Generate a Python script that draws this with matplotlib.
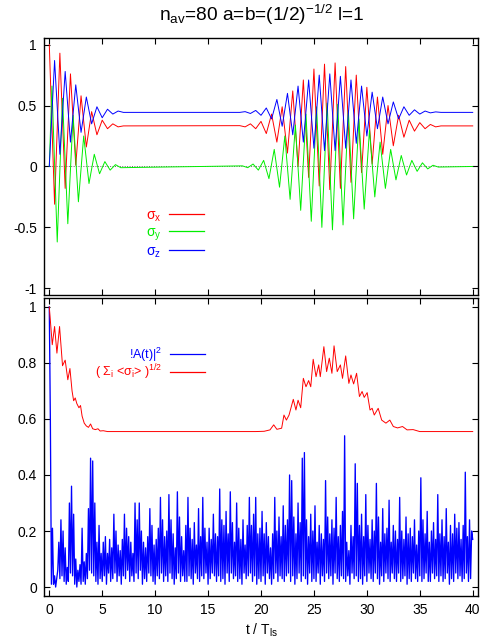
import numpy as np
import matplotlib
matplotlib.use('Agg')
import matplotlib.pyplot as plt

plt.rcParams['font.family'] = ['Liberation Sans', 'DejaVu Sans']
plt.rcParams['mathtext.fontset'] = 'custom'
plt.rcParams['mathtext.rm'] = 'Liberation Sans'
plt.rcParams['mathtext.it'] = 'Liberation Sans'
plt.rcParams['mathtext.bf'] = 'Liberation Sans:bold'

T_END = 40.0

# --- painel de cima: extremos (colapso e renascimento) ---
t_sx_col = np.arange(0, 7.01, 0.5)
sx_col = [1.00, -0.31, 0.93, -0.18, 0.76, 0.01, 0.58, 0.16, 0.45, 0.26,
          0.38, 0.31, 0.35, 0.325, 0.333]
t_sx_rev = np.arange(18, 37.01, 0.5)
sx_rev = [0.335, 0.325, 0.35, 0.31, 0.37, 0.27, 0.43, 0.20, 0.49, 0.11,
          0.62, 0.00, 0.71, -0.09, 0.80, -0.16, 0.84, -0.19, 0.85, -0.18,
          0.82, -0.13, 0.75, -0.05, 0.65, 0.02, 0.57, 0.10, 0.50, 0.17,
          0.42, 0.24, 0.38, 0.29, 0.36, 0.31, 0.345, 0.325, 0.333]
sx_flat = 0.333

t_sy_col = np.concatenate([[0.0], np.arange(0.25, 7.0, 0.5)])
sy_col = [0.0, 0.66, -0.62, 0.56, -0.47, 0.42, -0.29, 0.25, -0.14, 0.10,
          -0.06, 0.04, -0.03, 0.015, -0.01]
t_sy_rev = np.arange(18.25, 37.0, 0.5)
sy_rev = [0.005, -0.01, 0.02, -0.03, 0.05, -0.10, 0.14, -0.17, 0.25, -0.27,
          0.34, -0.36, 0.43, -0.45, 0.49, -0.50, 0.52, -0.52, 0.51, -0.48,
          0.46, -0.43, 0.39, -0.35, 0.30, -0.25, 0.20, -0.18, 0.14, -0.11,
          0.09, -0.07, 0.05, -0.04, 0.03, -0.02, 0.01, -0.005]
sy_flat = 0.0

t_sz_col = np.arange(0, 7.01, 0.5)
sz_col = [0.0, 0.87, 0.10, 0.78, 0.20, 0.67, 0.28, 0.57, 0.35, 0.49,
          0.40, 0.47, 0.43, 0.455, 0.444]
t_sz_rev = np.arange(18, 37.01, 0.5)
sz_rev = [0.444, 0.45, 0.435, 0.46, 0.42, 0.48, 0.39, 0.55, 0.33, 0.60,
          0.26, 0.66, 0.20, 0.71, 0.15, 0.75, 0.13, 0.76, 0.13, 0.74,
          0.15, 0.71, 0.19, 0.66, 0.25, 0.61, 0.31, 0.57, 0.35, 0.53,
          0.39, 0.49, 0.42, 0.465, 0.43, 0.455, 0.44, 0.448, 0.444]
sz_flat = 0.444

# --- painel de baixo: norma do vetor de Bloch ---
t_norm_col = [0.0, 0.28, 0.5, 0.72, 0.97, 1.25, 1.5, 1.75, 1.95, 2.15,
              2.3, 2.45, 2.6, 2.8, 2.95, 3.1, 3.3, 3.5, 3.7, 3.9,
              4.1, 4.35, 4.6, 4.8, 5.1, 5.5]
norm_col = [1.00, 0.865, 0.93, 0.835, 0.93, 0.79, 0.81, 0.74, 0.78, 0.70,
            0.665, 0.675, 0.655, 0.64, 0.648, 0.61, 0.585, 0.575, 0.57, 0.582,
            0.565, 0.562, 0.565, 0.557, 0.558, 0.555]
t_norm_rev = [19.5, 20.3, 20.85, 21.2, 21.5, 21.95, 22.17, 22.4, 22.65, 23.05,
              23.3, 23.5, 23.75, 24.0, 24.25, 24.5, 24.7, 24.93, 25.2, 25.45,
              25.6, 25.94, 26.2, 26.45, 26.7, 26.9, 27.2, 27.5, 27.7, 28.0,
              28.3, 28.5, 28.75, 29.03, 29.3, 29.55, 29.75, 30.03, 30.3, 30.5,
              30.7, 31.07, 31.4, 31.8, 32.17, 32.5, 32.9, 33.37, 33.8, 34.37,
              35.0, 36.0]
norm_rev = [0.555, 0.556, 0.561, 0.579, 0.563, 0.567, 0.614, 0.596, 0.614, 0.67,
            0.632, 0.667, 0.64, 0.745, 0.715, 0.737, 0.715, 0.813, 0.751, 0.793,
            0.751, 0.858, 0.769, 0.817, 0.763, 0.861, 0.769, 0.793, 0.745, 0.825,
            0.727, 0.757, 0.725, 0.763, 0.68, 0.698, 0.677, 0.694, 0.632, 0.638,
            0.614, 0.638, 0.596, 0.585, 0.596, 0.573, 0.568, 0.573, 0.561, 0.562,
            0.555, 0.555]
norm_flat = 0.555

# |A(t)|^2 em centesimos, passo 0.1 (uma linha = 1 unidade de t)
A2_STEP = 0.1
a2_pct = [
    100, 60, 1, 21, 1, 4, 0, 3, 6, 16,
    3, 24, 4, 20, 2, 14, 1, 7, 2, 30,
    5, 36, 4, 26, 1, 10, 0, 6, 2, 8,
    1, 21, 2, 9, 1, 12, 3, 28, 6, 46,
    5, 45, 4, 30, 2, 16, 1, 22, 3, 12,
    2, 16, 4, 18, 1, 12, 5, 17, 2, 14,
    3, 26, 5, 20, 2, 15, 4, 13, 1, 17,
    4, 26, 3, 21, 6, 18, 2, 16, 4, 12,
    2, 30, 5, 24, 3, 30, 6, 20, 1, 16,
    3, 14, 2, 18, 5, 28, 4, 22, 2, 15,
    1, 17, 4, 21, 3, 32, 5, 24, 2, 18,
    4, 20, 2, 33, 5, 24, 3, 19, 1, 14,
    3, 34, 5, 25, 2, 18, 4, 13, 2, 22,
    2, 32, 4, 21, 3, 17, 1, 23, 5, 15,
    3, 28, 2, 18, 4, 32, 3, 21, 5, 16,
    1, 21, 3, 17, 5, 26, 4, 19, 2, 18,
    4, 35, 2, 24, 3, 22, 1, 27, 5, 19,
    2, 34, 5, 23, 3, 16, 4, 30, 2, 21,
    3, 17, 1, 24, 5, 15, 3, 22, 4, 32,
    5, 22, 2, 26, 4, 32, 1, 19, 3, 21,
    2, 27, 4, 19, 1, 23, 5, 18, 3, 14,
    1, 19, 3, 32, 5, 20, 2, 25, 4, 18,
    3, 29, 2, 22, 4, 24, 5, 40, 2, 38,
    4, 25, 1, 19, 3, 30, 5, 23, 2, 46,
    4, 48, 3, 24, 1, 18, 5, 26, 2, 20,
    3, 29, 2, 16, 5, 22, 1, 19, 4, 17,
    2, 38, 5, 25, 3, 19, 4, 24, 1, 21,
    5, 32, 3, 18, 2, 22, 4, 27, 3, 54,
    2, 16, 4, 13, 1, 22, 5, 18, 3, 44,
    4, 37, 2, 22, 3, 26, 1, 18, 4, 33,
    2, 22, 5, 17, 3, 24, 2, 20, 5, 37,
    3, 25, 1, 16, 4, 28, 2, 19, 5, 21,
    3, 31, 2, 16, 5, 22, 3, 20, 2, 17,
    5, 32, 2, 20, 3, 17, 4, 25, 1, 19,
    3, 21, 2, 18, 5, 24, 3, 15, 2, 20,
    4, 39, 2, 24, 3, 19, 5, 27, 2, 16,
    2, 20, 5, 23, 3, 17, 4, 33, 2, 19,
    4, 24, 2, 18, 3, 28, 5, 16, 1, 22,
    3, 19, 2, 26, 5, 21, 3, 23, 4, 17,
    2, 22, 3, 41, 5, 18, 2, 24, 3, 20,
    17,
]

title = r'n$_{\rm av}$=80 a=b=(1/2)$^{-1/2}$ l=1'
lbl_sigma = [r'$\sigma_{\rm x}$', r'$\sigma_{\rm y}$', r'$\sigma_{\rm z}$']
lbl_amp = r'!A(t)|$^2$'
lbl_norm = r'( $\Sigma_{\rm i}$ <$\sigma_{\rm i}$> )$^{1/2}$'
xticks = np.arange(0, 41, 5)
yticks_top = [-1, -0.5, 0, 0.5, 1]
yticks_bot = [0, 0.2, 0.4, 0.6, 0.8, 1]


def join(t_col, v_col, t_rev, v_rev, flat):
    t = np.concatenate([t_col, t_rev, [T_END]])
    v = np.concatenate([v_col, v_rev, [flat]])
    return t, v


def style_axes(ax):
    ax.set_xlim(-0.5, 40.5)
    ax.set_xticks(xticks)
    ax.tick_params(direction='in', top=True, right=True, length=4,
                   width=0.8, labelsize=10, pad=5)
    for s in ax.spines.values():
        s.set_linewidth(1.0)


fig = plt.figure(figsize=(5.0, 6.41), dpi=100)
ax1 = fig.add_axes([0.088, 0.5398, 0.868, 0.401])
ax2 = fig.add_axes([0.088, 0.0702, 0.868, 0.465])

# painel de cima
ax1.axhline(0, color='0.4', lw=0.7, ls=(0, (1, 1.5)), zorder=1)
cores = ['#ff0000', '#00ee00', '#0000ff']
series = [join(t_sx_col, sx_col, t_sx_rev, sx_rev, sx_flat),
          join(t_sy_col, sy_col, t_sy_rev, sy_rev, sy_flat),
          join(t_sz_col, sz_col, t_sz_rev, sz_rev, sz_flat)]
for (t, v), c, lb in zip(series, cores, lbl_sigma):
    ax1.plot(t, v, color=c, lw=0.7, label=lb, zorder=2,
             solid_joinstyle='round')
style_axes(ax1)
ax1.set_ylim(-1.055, 1.055)
ax1.set_yticks(yticks_top)
ax1.set_yticklabels(['-1', '-0.5', '0', '0.5', '1'])
ax1.tick_params(labelbottom=False)
leg1 = ax1.legend(loc='upper right', bbox_to_anchor=(0.385, 0.365),
                  frameon=False, markerfirst=False, fontsize=10,
                  handlelength=2.5, handletextpad=0.6, labelspacing=0.12,
                  borderpad=0, labelcolor='linecolor')
for h in leg1.get_lines():
    h.set_linewidth(0.9)

# painel de baixo
a2 = np.array(a2_pct) / 100.0
t_a2 = np.arange(len(a2)) * A2_STEP
t_n, v_n = join(t_norm_col, norm_col, t_norm_rev, norm_rev, norm_flat)
ax2.plot(t_a2, a2, color='#0000ff', lw=0.95, label=lbl_amp)
ax2.plot(t_n, v_n, color='#ff0000', lw=0.7, label=lbl_norm,
         solid_joinstyle='round')
style_axes(ax2)
ax2.set_ylim(-0.032, 1.032)
ax2.set_yticks(yticks_bot)
ax2.set_yticklabels(['0', '0.2', '0.4', '0.6', '0.8', '1'])
ax2.set_xlabel(r't / T$_{\rm ls}$', fontsize=10, labelpad=3)
leg2 = ax2.legend(loc='upper right', bbox_to_anchor=(0.385, 0.862),
                  frameon=False, markerfirst=False, fontsize=9,
                  handlelength=2.75, handletextpad=0.65, labelspacing=-0.05,
                  borderpad=0, labelcolor='linecolor')
for h in leg2.get_lines():
    h.set_linewidth(0.9)

fig.text(0.524, 0.977, title, ha='center', va='center', fontsize=13.8)

plt.savefig('out.png', dpi=100)
